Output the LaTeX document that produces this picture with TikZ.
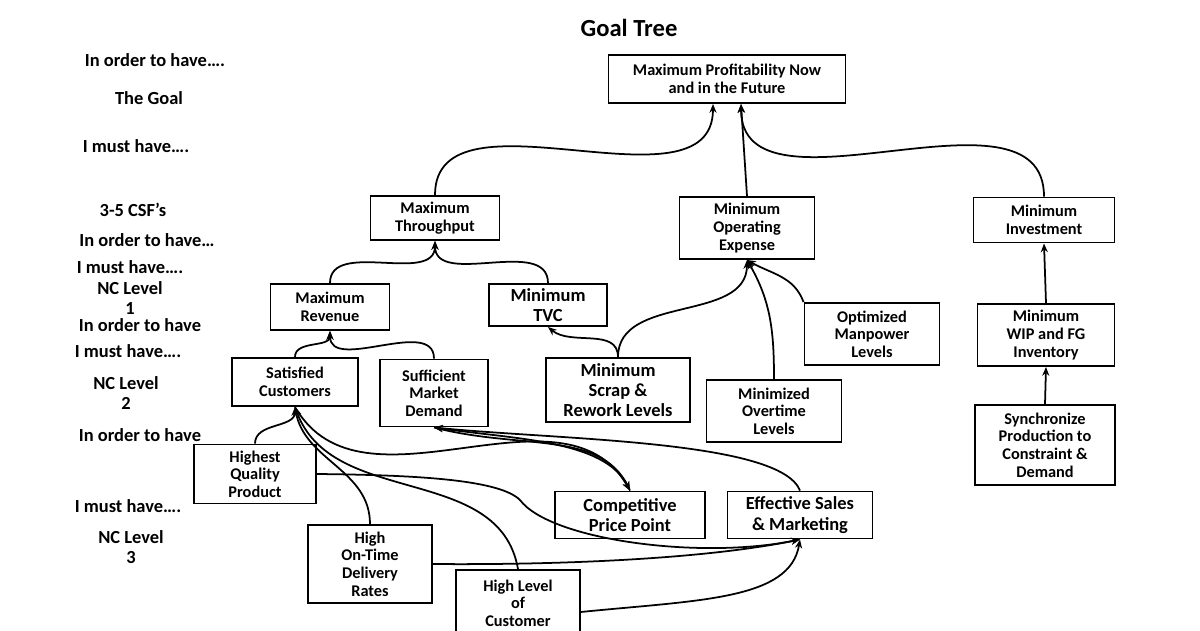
\documentclass[tikz,border=0pt]{standalone}
\usepackage{fontspec}
\setmainfont{Carlito}
\usetikzlibrary{arrows.meta}
\begin{document}
\begin{tikzpicture}[x=0.02cm,y=-0.02cm,
  box/.style={draw,line width=1.1pt,align=center,font=\bfseries\fontsize{9.3}{10}\selectfont,inner sep=0pt},
  lab/.style={align=center,font=\bfseries\fontsize{10.5}{11}\selectfont},
  con/.style={line width=1pt,-{Stealth[length=5pt,width=4pt]}}]
\useasboundingbox (0,0) rectangle (1200,630);
\clip (0,0) rectangle (1200,630);
\node[font=\bfseries\fontsize{14}{16}\selectfont] (title) at (629,28) {Goal Tree};
\node[lab] (l1) at (155,60) {In order to have….};
\node[lab] (l2) at (149,98) {The Goal};
\node[lab] (l3) at (136,146) {I must have….};
\node[lab] (l4) at (133,210) {3-5 CSF’s};
\node[lab] (l5) at (147,240) {In order to have…};
\node[lab] (l6) at (130,267) {I must have….};
\node[lab] (l7) at (130,298) {NC Level\\1};
\node[lab] (l8) at (140,325) {In order to have};
\node[lab] (l9) at (128,351) {I must have….};
\node[lab] (l10) at (126,393) {NC Level\\2};
\node[lab] (l11) at (140,435) {In order to have};
\node[lab] (l12) at (128,506) {I must have….};
\node[lab] (l13) at (131,547) {NC Level\\3};

\node[box,minimum width=237*0.02cm,minimum height=48*0.02cm] (goal) at (727,79) {Maximum Profitability Now\\and in the Future};
\node[box,minimum width=129*0.02cm,minimum height=44*0.02cm] (thr) at (435,218) {Maximum\\Throughput};
\node[box,minimum width=135*0.02cm,minimum height=62*0.02cm] (opx) at (747,228) {Minimum\\Operating\\Expense};
\node[box,minimum width=141*0.02cm,minimum height=45*0.02cm] (inv) at (1044,220) {Minimum\\Investment};
\node[box,minimum width=119*0.02cm,minimum height=46*0.02cm] (rev) at (330,307) {Maximum\\Revenue};
\node[box,minimum width=118*0.02cm,minimum height=42*0.02cm,font=\bfseries\fontsize{10.5}{11}\selectfont] (tvc) at (548,305) {Minimum\\TVC};
\node[box,minimum width=135*0.02cm,minimum height=62*0.02cm] (man) at (872,334) {Optimized\\Manpower\\Levels};
\node[box,minimum width=137*0.02cm,minimum height=62*0.02cm] (wip) at (1046,335) {Minimum\\WIP and FG\\Inventory};
\node[box,minimum width=126*0.02cm,minimum height=48*0.02cm] (sat) at (295,382) {Satisfied\\Customers};
\node[box,minimum width=108*0.02cm,minimum height=67*0.02cm] (smd) at (434,393) {Sufficient\\Market\\Demand};
\node[box,minimum width=144*0.02cm,minimum height=64*0.02cm,font=\bfseries\fontsize{10.5}{11.5}\selectfont] (scr) at (618,390) {Minimum\\Scrap \&\\Rework Levels};
\node[box,minimum width=135*0.02cm,minimum height=62*0.02cm] (ovt) at (774,411) {Minimized\\Overtime\\Levels};
\node[box,minimum width=140*0.02cm,minimum height=80*0.02cm] (syn) at (1045,445) {Synchronize\\Production to\\Constraint \&\\Demand};
\node[box,minimum width=122*0.02cm,minimum height=59*0.02cm] (hqp) at (255,474) {Highest\\Quality\\Product};
\node[box,minimum width=150*0.02cm,minimum height=47*0.02cm,font=\bfseries\fontsize{10.5}{11.5}\selectfont] (cpp) at (630,515) {Competitive\\Price Point};
\node[box,minimum width=145*0.02cm,minimum height=47*0.02cm,font=\bfseries\fontsize{10.5}{11.5}\selectfont] (esm) at (800,515) {Effective Sales\\\& Marketing};
\node[box,minimum width=124*0.02cm,minimum height=78*0.02cm] (del) at (370,564) {High\\On-Time\\Delivery\\Rates};
\node[box,minimum width=124*0.02cm,minimum height=84*0.02cm,anchor=north] (cus) at (518,569) {High Level\\of\\Customer\\Service};

\draw[con] (thr.north) to[out=90,in=-90] ([xshift=-14*0.02cm]goal.south);
\draw[con] (opx.north) -- ([xshift=14*0.02cm]goal.south);
\draw[con] (inv.north) to[out=90,in=-90] ([xshift=14*0.02cm]goal.south);
\draw[con] (rev.north) to[out=90,in=-90] (thr.south);
\draw[con] (tvc.north) to[out=90,in=-90] (thr.south);
\draw[con] (scr.north) to[out=90,in=-40] (tvc.south);
\draw[con] (scr.north) to[out=90,in=-90] (opx.south);
\draw[con] (ovt.north) to[out=90,in=-60] (opx.south);
\draw[con] (man.north west) to[out=110,in=-30] (opx.south);
\draw[con] (wip.north) -- (inv.south);
\draw[con] (syn.north) -- (wip.south);
\draw[con] (sat.north) to[out=90,in=-90] (rev.south);
\draw[con] (smd.north) to[out=90,in=-90] (rev.south);
\draw[con] (hqp.north) to[out=90,in=-90] (sat.south);
\draw[con] (del.north) to[out=90,in=-80] (sat.south);
\draw[con] (cus.north) to[out=100,in=-70] (sat.south);
\draw[con] (sat.south) to[out=-60,in=120] (cpp.north);
\draw[con] (smd.south) .. controls (520,450) and (600,430) .. (cpp.north);
\draw[con] (cpp.north) .. controls (610,440) and (520,440) .. (smd.south);
\draw[con] (esm.north) .. controls (780,440) and (560,440) .. (smd.south);
\draw[con] (hqp.east) .. controls (420,475) and (500,480) .. (520,500) .. controls (550,540) and (700,560) .. (esm.south);
\draw[con] (del.east) .. controls (550,565) and (700,560) .. (esm.south);
\draw[con] (cus.east) .. controls (700,600) and (790,600) .. (esm.south);
\end{tikzpicture}
\end{document}
